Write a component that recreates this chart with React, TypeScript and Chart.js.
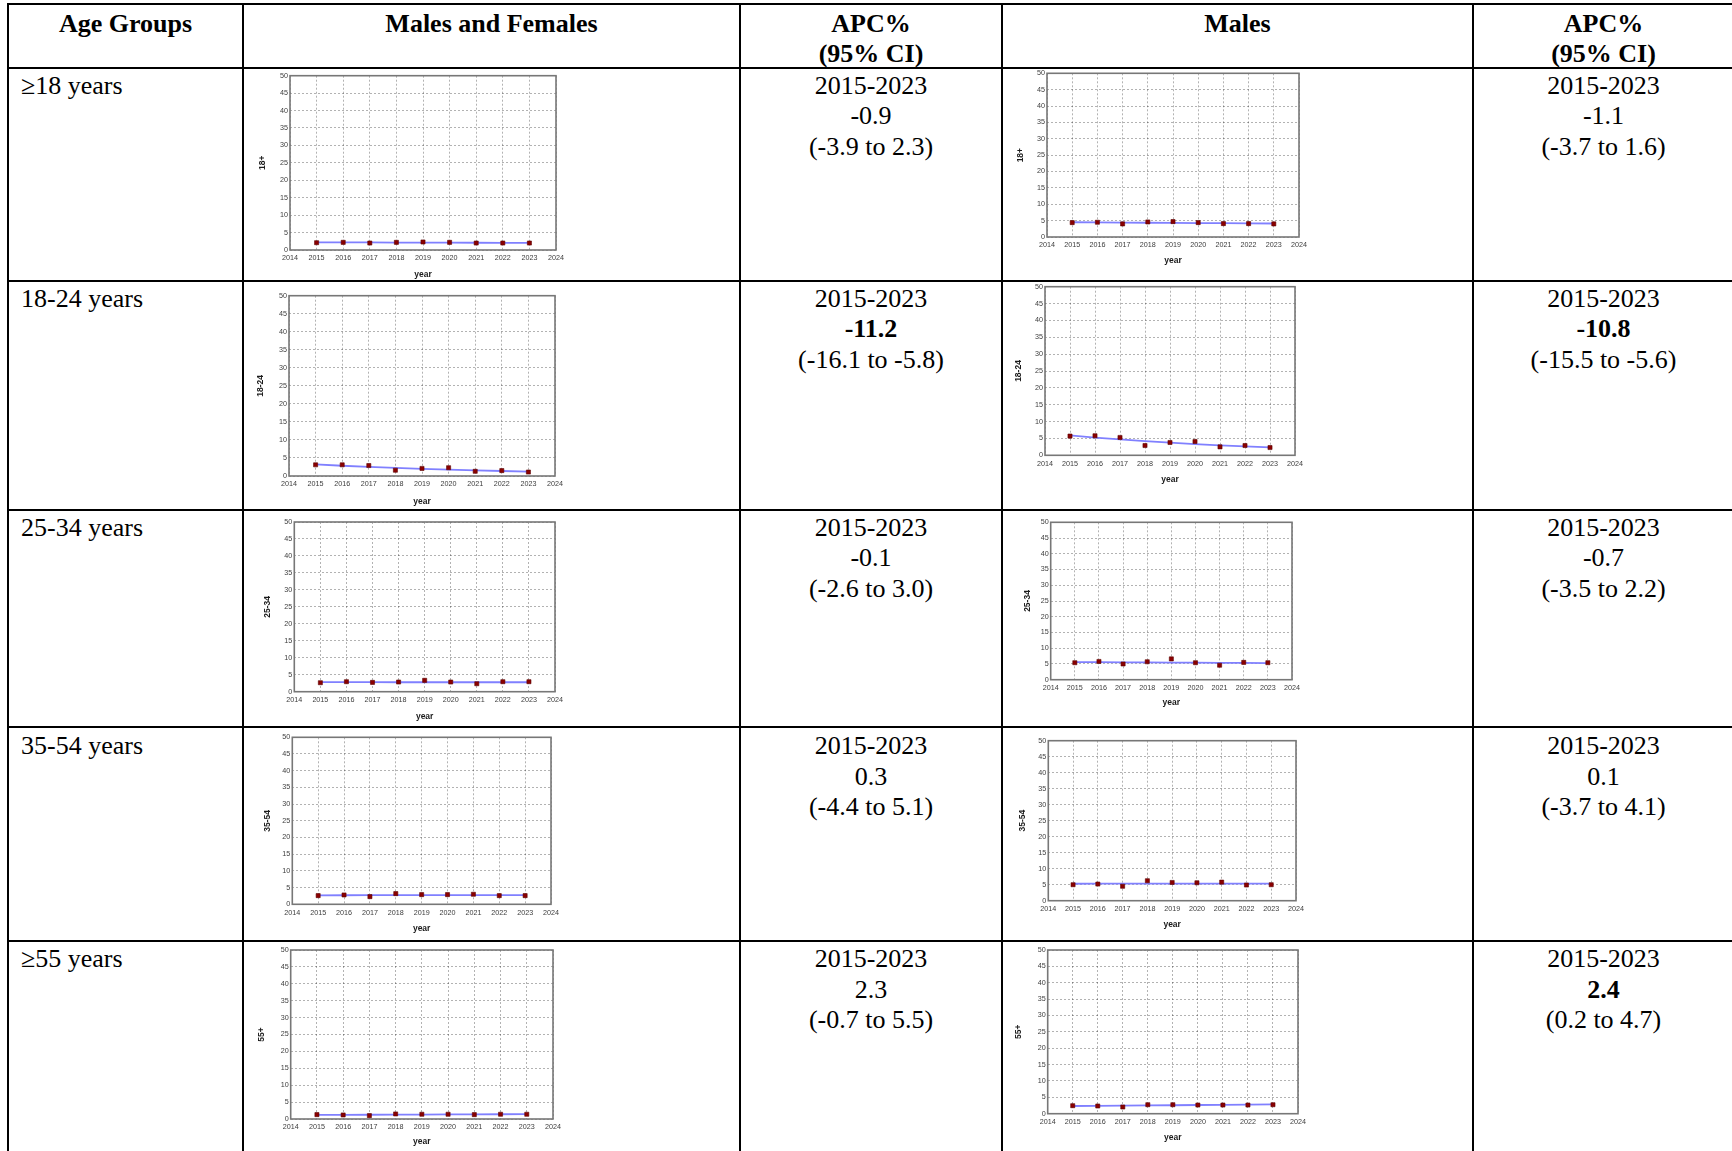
import React, { useEffect, useRef } from "react";
import { Chart, registerables } from "chart.js";

Chart.register(...registerables);

// ---------------- data ----------------
const years = [2015, 2016, 2017, 2018, 2019, 2020, 2021, 2022, 2023];
const xAxisMin = 2014;
const xAxisMax = 2024;
const yAxisMin = 0;
const yAxisMax = 50;
const yAxisStep = 5;

const obsBothAll = [2.1, 2.2, 2.0, 2.2, 2.3, 2.2, 2.0, 2.0, 2.0];
const fitBothAll = [2.2, 2.18, 2.16, 2.14, 2.12, 2.1, 2.08, 2.06, 2.04];
const obsMaleAll = [4.4, 4.5, 4.0, 4.6, 4.7, 4.4, 4.1, 4.1, 4.0];
const fitMaleAll = [4.5, 4.45, 4.4, 4.35, 4.31, 4.26, 4.21, 4.17, 4.12];

const obsBoth1824 = [3.1, 3.1, 2.9, 1.6, 2.1, 2.3, 1.3, 1.5, 1.1];
const fitBoth1824 = [3.2, 2.84, 2.52, 2.24, 1.99, 1.77, 1.57, 1.39, 1.24];
const obsMale1824 = [5.7, 5.8, 5.3, 2.9, 3.8, 4.1, 2.5, 2.9, 2.3];
const fitMale1824 = [5.9, 5.26, 4.7, 4.19, 3.74, 3.33, 2.97, 2.65, 2.37];

const obsBoth2534 = [2.65, 2.95, 2.75, 2.85, 3.35, 2.85, 2.35, 2.95, 2.95];
const fitBoth2534 = [2.8, 2.8, 2.8, 2.79, 2.79, 2.79, 2.79, 2.78, 2.78];
const obsMale2534 = [5.4, 5.8, 5.0, 5.7, 6.6, 5.4, 4.6, 5.5, 5.4];
const fitMale2534 = [5.6, 5.56, 5.52, 5.48, 5.44, 5.41, 5.37, 5.33, 5.29];

const obsBoth3554 = [2.6, 2.8, 2.3, 3.2, 2.9, 2.9, 3.0, 2.6, 2.6];
const fitBoth3554 = [2.7, 2.71, 2.72, 2.72, 2.73, 2.74, 2.75, 2.76, 2.77];
const obsMale3554 = [5.0, 5.2, 4.5, 6.25, 5.7, 5.6, 5.8, 4.9, 5.0];
const fitMale3554 = [5.3, 5.31, 5.31, 5.32, 5.32, 5.33, 5.33, 5.34, 5.34];

const obsBoth55 = [1.3, 1.2, 1.0, 1.5, 1.4, 1.4, 1.3, 1.4, 1.4];
const fitBoth55 = [1.2, 1.23, 1.26, 1.28, 1.31, 1.34, 1.38, 1.41, 1.44];
const obsMale55 = [2.45, 2.35, 2.05, 2.75, 2.75, 2.65, 2.65, 2.65, 2.75];
const fitMale55 = [2.35, 2.41, 2.46, 2.52, 2.58, 2.65, 2.71, 2.77, 2.84];

const headers = ["Age Groups", "Males and Females", "APC%\n(95% CI)", "Males", "APC%\n(95% CI)"];
const ageGroups = ["≥18 years", "18-24 years", "25-34 years", "35-54 years", "≥55 years"];
const yAxisTitles = ["18+", "18-24", "25-34", "35-54", "55+"];
const xAxisTitle = "year";
const apcPeriod = "2015-2023";
const apcBoth = ["-0.9", "-11.2", "-0.1", "0.3", "2.3"];
const ciBoth = ["(-3.9 to 2.3)", "(-16.1 to -5.8)", "(-2.6 to 3.0)", "(-4.4 to 5.1)", "(-0.7 to 5.5)"];
const sigBoth = [false, true, false, false, false];
const apcMale = ["-1.1", "-10.8", "-0.7", "0.1", "2.4"];
const ciMale = ["(-3.7 to 1.6)", "(-15.5 to -5.6)", "(-3.5 to 2.2)", "(-3.7 to 4.1)", "(0.2 to 4.7)"];
const sigMale = [false, true, false, false, true];

const observedBoth = [obsBothAll, obsBoth1824, obsBoth2534, obsBoth3554, obsBoth55];
const fittedBoth = [fitBothAll, fitBoth1824, fitBoth2534, fitBoth3554, fitBoth55];
const observedMale = [obsMaleAll, obsMale1824, obsMale2534, obsMale3554, obsMale55];
const fittedMale = [fitMaleAll, fitMale1824, fitMale2534, fitMale3554, fitMale55];

// ---------------- layout ----------------
const colLines = [8, 243, 740, 1002, 1473, 1734];
const rowLines = [4, 68, 281, 510, 727, 941];
const rowTextCenter = [86, 299, 528, 746.5, 959.5];

// plot boxes per row: [bothBox, maleBox]
const plotBoxes = [
  [
    { pl: 290, pr: 558, pt: 75.7, pb: 250, tx: 263, ty: 275 },
    { pl: 1047, pr: 1301, pt: 73.3, pb: 237, tx: 1021, ty: 261 },
  ],
  [
    { pl: 289, pr: 557, pt: 295.7, pb: 476, tx: 261, ty: 501.7 },
    { pl: 1045, pr: 1297, pt: 286.7, pb: 455.3, tx: 1019, ty: 480 },
  ],
  [
    { pl: 294.3, pr: 556.7, pt: 522, pb: 691.7, tx: 268, ty: 716.7 },
    { pl: 1050.7, pr: 1294, pt: 522.3, pb: 679.7, tx: 1028, ty: 702.7 },
  ],
  [
    { pl: 292.3, pr: 552.3, pt: 737.3, pb: 904.3, tx: 268, ty: 928.3 },
    { pl: 1048.3, pr: 1297.3, pt: 740.7, pb: 900.7, tx: 1023, ty: 924.3 },
  ],
  [
    { pl: 290.7, pr: 555, pt: 950, pb: 1119, tx: 261.7, ty: 1141.7 },
    { pl: 1047.7, pr: 1300, pt: 950, pb: 1113.7, tx: 1019, ty: 1137.7 },
  ],
];

const TITLE_SIZE = 8.5;
const TITLE_HALF = (TITLE_SIZE * 1.2) / 2;

const framePlugin = {
  id: "frame",
  beforeDatasetsDraw(chart: any) {
    const { ctx, chartArea: a } = chart;
    ctx.save();
    ctx.strokeStyle = "#777777";
    ctx.lineWidth = 1.6;
    ctx.strokeRect(a.left, a.top, a.right - a.left, a.bottom - a.top);
    ctx.restore();
  },
};

type Box = { pl: number; pr: number; pt: number; pb: number; tx: number; ty: number };

function MiniChart({ box, observed, fitted, yTitle }: { box: Box; observed: number[]; fitted: number[]; yTitle: string }) {
  const ref = useRef<HTMLCanvasElement>(null);
  const left = Math.floor(box.tx - TITLE_HALF);
  const top = Math.floor(box.pt - 8);
  const right = Math.ceil(box.pr + 10);
  const bottom = Math.ceil(box.ty + TITLE_HALF);
  const w = right - left;
  const h = bottom - top;
  const yW = box.pl - left;
  const xH = bottom - box.pb;
  const padTop = box.pt - top;
  const padRight = right - box.pr;
  const yTitlePad = box.tx - TITLE_HALF - left;
  const xTitlePad = bottom - box.ty - TITLE_HALF;

  useEffect(() => {
    const chart = new Chart(ref.current as HTMLCanvasElement, {
      type: "scatter",
      data: {
        datasets: [
          {
            type: "scatter",
            data: years.map((y, i) => ({ x: y, y: observed[i] })),
            pointStyle: "rect",
            pointRadius: 2.9,
            backgroundColor: "#8b0000",
            borderColor: "#5c0000",
            borderWidth: 0.6,
            order: 0,
          } as any,
          {
            type: "line",
            data: years.map((y, i) => ({ x: y, y: fitted[i] })),
            borderColor: "#8080ff",
            borderWidth: 1.8,
            pointRadius: 0,
            fill: false,
            tension: 0,
            order: 1,
          } as any,
        ],
      },
      options: {
        animation: false,
        responsive: false,
        events: [],
        layout: { padding: { top: padTop, right: padRight, left: 0, bottom: 0 } },
        plugins: { legend: { display: false }, tooltip: { enabled: false }, title: { display: false } },
        scales: {
          x: {
            type: "linear",
            min: xAxisMin,
            max: xAxisMax,
            afterFit: (s: any) => {
              s.height = xH;
            },
            ticks: {
              stepSize: 1,
              autoSkip: false,
              maxRotation: 0,
              padding: 4,
              color: "#3c3c3c",
              font: { family: "Liberation Sans", size: 7.2 },
              callback: (v: any) => String(v),
            },
            grid: { color: "rgba(0,0,0,0.3)", lineWidth: 1, drawTicks: false },
            border: { display: false, dash: [2, 2] },
            title: {
              display: true,
              text: xAxisTitle,
              color: "#1a1a1a",
              padding: { top: 0, bottom: xTitlePad },
              font: { family: "Liberation Sans", size: TITLE_SIZE, weight: "bold" },
            },
          },
          y: {
            type: "linear",
            min: yAxisMin,
            max: yAxisMax,
            afterFit: (s: any) => {
              s.width = yW;
            },
            ticks: {
              stepSize: yAxisStep,
              padding: 2,
              color: "#3c3c3c",
              font: { family: "Liberation Sans", size: 7.2 },
            },
            grid: { color: "rgba(0,0,0,0.3)", lineWidth: 1, drawTicks: false },
            border: { display: false, dash: [2, 2] },
            title: {
              display: true,
              text: yTitle,
              color: "#1a1a1a",
              padding: { top: yTitlePad, bottom: 0 },
              font: { family: "Liberation Sans", size: TITLE_SIZE, weight: "bold" },
            },
          },
        },
      } as any,
      plugins: [framePlugin],
    });
    return () => chart.destroy();
  }, []);

  return (
    <canvas
      ref={ref}
      width={w}
      height={h}
      style={{ position: "absolute", left, top, width: w, height: h, background: "#fff" }}
    />
  );
}

const serif = '"Liberation Serif", "Times New Roman", serif';
const LINE_H = 30.5;

function TextCell({ x1, x2, yCenter, lines, align, boldIdx }: { x1: number; x2: number; yCenter: number; lines: string[]; align: "left" | "center"; boldIdx?: number[] }) {
  return (
    <div
      style={{
        position: "absolute",
        left: align === "left" ? x1 + 13 : x1,
        width: align === "left" ? x2 - x1 - 13 : x2 - x1,
        top: yCenter - LINE_H / 2,
        fontFamily: serif,
        fontSize: 26,
        lineHeight: LINE_H + "px",
        textAlign: align,
        color: "#000",
        whiteSpace: "nowrap",
      }}
    >
      {lines.map((l, i) => (
        <div key={i} style={{ fontWeight: boldIdx && boldIdx.includes(i) ? "bold" : "normal" }}>
          {l}
        </div>
      ))}
    </div>
  );
}

export default function App() {
  const lines: React.ReactNode[] = [];
  colLines.forEach((x, i) =>
    lines.push(
      <div key={"v" + i} style={{ position: "absolute", left: x - 1, top: rowLines[0] - 1, width: 2, height: 1200, background: "#000" }} />
    )
  );
  rowLines.forEach((y, i) =>
    lines.push(
      <div key={"h" + i} style={{ position: "absolute", left: colLines[0] - 1, top: y - 1, width: 1800, height: 2, background: "#000" }} />
    )
  );

  return (
    <div style={{ position: "fixed", left: 0, top: 0, width: 1732, height: 1151, overflow: "hidden", background: "#fff" }}>
      {headers.map((h, i) => (
        <div
          key={"hd" + i}
          style={{
            position: "absolute",
            left: colLines[i],
            width: colLines[i + 1] - colLines[i],
            top: 9,
            fontFamily: serif,
            fontSize: 26,
            fontWeight: "bold",
            lineHeight: "30px",
            textAlign: "center",
            whiteSpace: "pre",
          }}
        >
          {h}
        </div>
      ))}
      {ageGroups.map((g, r) => (
        <React.Fragment key={"row" + r}>
          <TextCell x1={colLines[0]} x2={colLines[1]} yCenter={rowTextCenter[r]} lines={[g]} align="left" />
          <TextCell
            x1={colLines[2]}
            x2={colLines[3]}
            yCenter={rowTextCenter[r]}
            lines={[apcPeriod, apcBoth[r], ciBoth[r]]}
            align="center"
            boldIdx={sigBoth[r] ? [1] : []}
          />
          <TextCell
            x1={colLines[4]}
            x2={colLines[5]}
            yCenter={rowTextCenter[r]}
            lines={[apcPeriod, apcMale[r], ciMale[r]]}
            align="center"
            boldIdx={sigMale[r] ? [1] : []}
          />
          <MiniChart box={plotBoxes[r][0]} observed={observedBoth[r]} fitted={fittedBoth[r]} yTitle={yAxisTitles[r]} />
          <MiniChart box={plotBoxes[r][1]} observed={observedMale[r]} fitted={fittedMale[r]} yTitle={yAxisTitles[r]} />
        </React.Fragment>
      ))}
      {lines}
    </div>
  );
}
